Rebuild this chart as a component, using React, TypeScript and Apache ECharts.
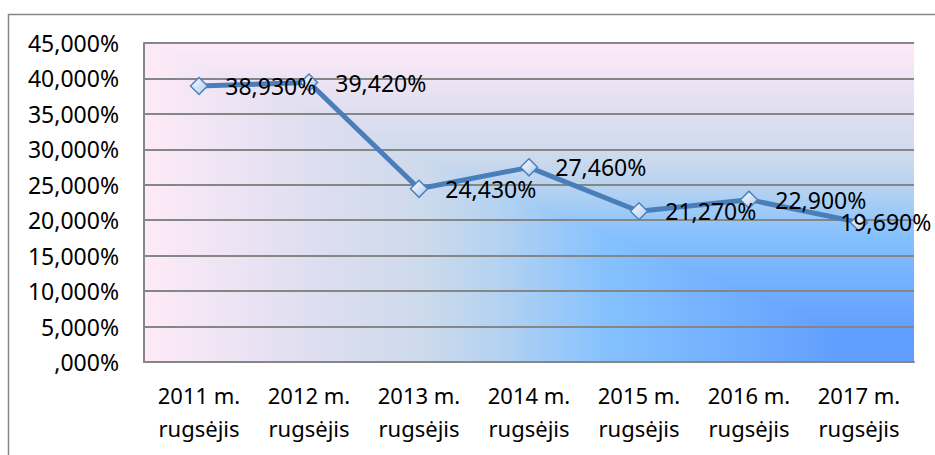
import React, { useEffect, useRef } from "react";
import * as echarts from "echarts";

const categories = [
  "2011 m.\nrugsėjis",
  "2012 m.\nrugsėjis",
  "2013 m.\nrugsėjis",
  "2014 m.\nrugsėjis",
  "2015 m.\nrugsėjis",
  "2016 m.\nrugsėjis",
  "2017 m.\nrugsėjis",
];
const values = [38.93, 39.42, 24.43, 27.46, 21.27, 22.9, 19.69];
const yMin = 0;
const yMax = 45;
const yStep = 5;

const fmt = (v: number) => {
  const s = v.toFixed(3).replace(".", ",");
  return (s.startsWith("0,") ? s.slice(1) : s) + "%";
};

const W = 935;
const H = 455;
const L = 144;
const T = 43;
const R = 914;
const B = 362;

const stops = [
  { offset: 0, color: "#FEEAF8" },
  { offset: 0.22, color: "#DEDEF0" },
  { offset: 0.36, color: "#CDDAEC" },
  { offset: 0.46, color: "#B4D2F1" },
  { offset: 0.6, color: "#86C1FE" },
  { offset: 0.78, color: "#70ADFE" },
  { offset: 0.9, color: "#619FFE" },
  { offset: 1, color: "#5F9DFF" },
];

export default function App() {
  const ref = useRef<HTMLDivElement>(null);
  useEffect(() => {
    if (!ref.current) return;
    const chart = echarts.init(ref.current, null, { renderer: "svg" });
    const font = { fontFamily: "Noto Sans", fontSize: 23, color: "#000" };
    const last = values.length - 1;
    chart.setOption({
      animation: false,
      backgroundColor: "#fff",
      textStyle: { fontFamily: "Noto Sans" },
      grid: { left: L, top: T, right: W - R, bottom: H - B, containLabel: false },
      graphic: [
        {
          type: "rect",
          z: -20,
          silent: true,
          shape: { x: 8.5, y: 14.5, width: 1000, height: 1000 },
          style: { fill: "#fff", stroke: "#878787", lineWidth: 1.5 },
        },
        {
          type: "rect",
          z: -15,
          silent: true,
          shape: { x: L, y: T, width: R - L, height: B - T },
          style: { fill: new echarts.graphic.LinearGradient(0, 0, 1, 0, stops) },
        },
        {
          type: "polygon",
          z: -10,
          silent: true,
          shape: { points: [[L, T], [R, T], [R, B]] },
          style: { fill: new echarts.graphic.LinearGradient(0, 0, 0, 1, stops) },
        },
      ],
      xAxis: {
        type: "category",
        data: categories,
        boundaryGap: true,
        axisLine: { lineStyle: { color: "#868686", width: 2 } },
        axisTick: { show: false },
        axisLabel: { ...font, fontSize: 22, margin: 16, lineHeight: 33, interval: 0 },
      },
      yAxis: {
        type: "value",
        min: yMin,
        max: yMax,
        interval: yStep,
        axisLine: { show: true, lineStyle: { color: "#868686", width: 2 } },
        axisTick: { show: false },
        splitLine: { lineStyle: { color: "#868686", width: 2 } },
        axisLabel: { ...font, margin: 25, formatter: (v: number) => fmt(v) },
      },
      series: [
        {
          type: "line",
          data: values.map((v, i) =>
            i === last ? { value: v, label: { offset: [-45, 0] } } : v
          ),
          lineStyle: { color: "#4A7EBB", width: 5 },
          symbol: "diamond",
          symbolSize: 17,
          itemStyle: {
            color: new echarts.graphic.LinearGradient(0, 0, 1, 1, [
              { offset: 0, color: "#FFFFFF" },
              { offset: 1, color: "#A9C8EE" },
            ]),
            borderColor: "#4F81BD",
            borderWidth: 1.5,
          },
          label: {
            show: true,
            position: "right",
            distance: 17,
            ...font,
            formatter: (p: any) => fmt(p.value),
          },
        },
      ],
    });
    return () => chart.dispose();
  }, []);
  return (
    <div
      ref={ref}
      style={{ position: "fixed", left: 0, top: 0, width: W, height: H }}
    />
  );
}
